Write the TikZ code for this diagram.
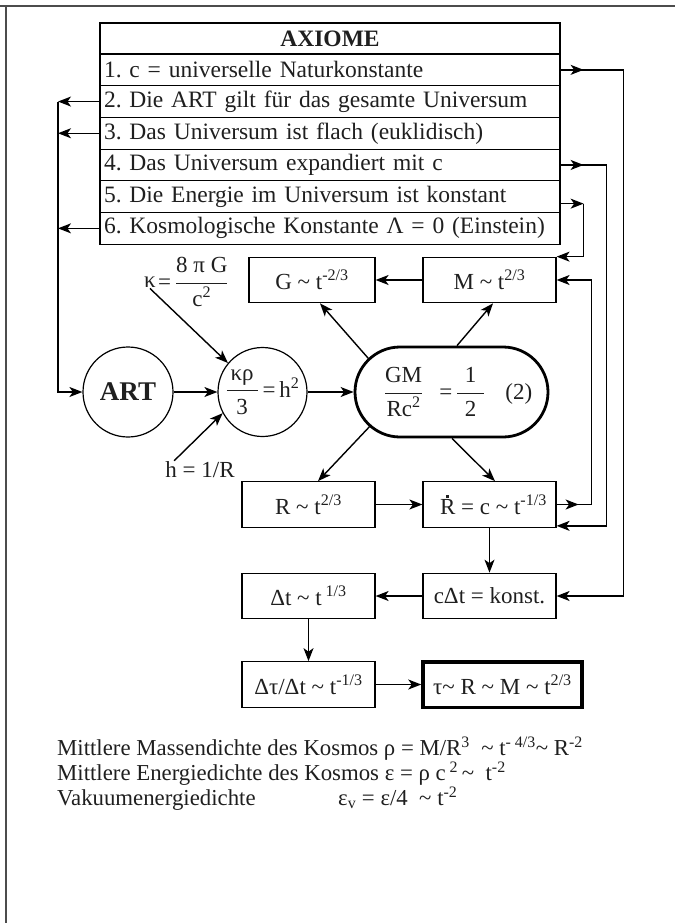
\documentclass[tikz,border=0pt]{standalone}
\usepackage{fontspec}
\setmainfont{Liberation Serif}
\usepackage{amsmath}
\usetikzlibrary{arrows.meta,calc}
\newcommand\tld{\textasciitilde}
\newcommand\sps[1]{\textsuperscript{#1}}
\newcommand\myRdot{\makebox[0pt][l]{\hspace{0.27em}\raisebox{0.72em}{\rule{2.6pt}{2.6pt}}}R}
\frenchspacing
\begin{document}
\begin{tikzpicture}[x=1pt,y=-1pt,
  >={Stealth[length=13pt,width=10pt,inset=3.5pt]},
  every node/.style={font=\fontsize{23}{27}\selectfont,text=black!88},
  arr/.style={->,line width=1.4pt},
  bx/.style={draw,line width=1.2pt,minimum height=45.5pt,inner sep=0pt},
  row/.style={draw,line width=1.2pt,minimum width=460pt,minimum height=31.7pt,inner xsep=4pt,inner ysep=0pt,text width=452pt,align=left,font=\fontsize{23.5}{27}\selectfont},
  lbl/.style={inner sep=1pt},
  btxt/.style={anchor=base west,inner sep=0pt,font=\fontsize{22.8}{26}\selectfont},
  ]
\useasboundingbox (0,0) rectangle (675,923);
\draw[line width=1.3pt,black!70] (0,6) -- (675,6);
\draw[line width=1.3pt,black!70] (6,6) -- (6,923);

% axioms
\node[row,align=center,font=\bfseries\fontsize{23.5}{27}\selectfont,minimum height=31pt] (ax) at (330,38.5) {AXIOME};
\node[row] (a1) at (330,69.85) {1. c = universelle Naturkonstante};
\node[row] (a2) at (330,101.55) {2. Die ART gilt für das gesamte Universum};
\node[row] (a3) at (330,133.25) {3. Das Universum ist flach (euklidisch)};
\node[row] (a4) at (330,164.95) {4. Das Universum expandiert mit c};
\node[row] (a5) at (330,196.65) {5. Die Energie im Universum ist konstant};
\node[row] (a6) at (330,228.35) {6. Kosmologische Konstante Λ = 0 (Einstein)};

% boxes
\node[bx,minimum width=126pt] (G) at (312,280) {G \tld\ t\sps{-2/3}};
\node[bx,minimum width=133pt] (M) at (489.5,280) {M \tld\ t\sps{2/3}};
\node[circle,draw,line width=1.2pt,minimum size=90pt,inner sep=0pt,font=\bfseries\fontsize{27}{30}\selectfont] (ART) at (128,392) {ART};
\node[circle,draw,line width=1.2pt,minimum size=89pt,inner sep=0pt] (kr) at (262.5,392) {$\dfrac{\text{\,κρ\,}}{\text{3}}$\,=\,h\sps{2}};
\node[draw,line width=2.8pt,rounded corners=45pt,minimum width=193pt,minimum height=90pt,inner sep=0pt] (GM) at (451.5,392) {};
\node[inner sep=0pt] (gmtext) at (458,392) {$\dfrac{\text{GM}}{\text{Rc\sps{2}}}$\hspace{16pt}=\,$\dfrac{\text{\,\,1\,\,}}{\text{2}}$\hspace{20pt}(2)};
\node[bx,minimum width=133pt] (R) at (308.5,504.5) {R \tld\ t\sps{2/3}};
\node[bx,minimum width=133pt] (Rd) at (489.5,504.5) {\hspace*{8pt}\myRdot\ = c \tld\ t\sps{-1/3}};
\node[bx,minimum width=133pt] (Dt) at (308.5,596) {Δt \tld\ t\,\sps{1/3}};
\node[bx,minimum width=133pt] (cDt) at (489.5,596) {cΔt = konst.};
\node[bx,minimum width=133pt] (Dtau) at (308.5,684.5) {Δτ/Δt \tld\ t\sps{-1/3}};
\node[bx,minimum width=159pt,line width=3.5pt] (tau) at (502.5,684.5) {τ\tld\ R \tld\ M \tld\ t\sps{2/3}};

% labels
\node[lbl] (kap) at (150,282) {κ};
\node[lbl,anchor=west] (kfrac) at (kap.east) {=\,$\dfrac{\text{8 π G}}{\text{c\sps{2}}}$};
\node[lbl] (hlab) at (200,470) {h = 1/R};

% bottom text
\node[btxt] (t1) at (57,755) {Mittlere Massendichte des Kosmos ρ = M/R\sps{3}\ \ \tld\ t\sps{- 4/3}\tld\ R\sps{-2}};
\node[btxt] (t2) at (57,780) {Mittlere Energiedichte des Kosmos ε = ρ c\,\sps{2}\,\tld\ \ t\sps{-2}};
\node[btxt] (t3) at (57,805) {Vakuumenergiedichte};
\node[btxt] (t3b) at (338,805) {ε\textsubscript{v} = ε/4\ \ \tld\ t\sps{-2}};

% left bus
\coordinate (lb) at (58,0);
\draw[arr] (a2.west) -- (a2.west -| lb);
\draw[arr] (a3.west) -- (a3.west -| lb);
\draw[arr] (a6.west) -- (a6.west -| lb);
\draw[arr] (a2.west -| lb) |- (ART.west);

% right buses
\draw[arr] (a1.east) -- ++(23,0);
\draw[arr] (a1.east) -- ++(63,0) |- (cDt.east);
\draw[arr] (a4.east) -- ++(23,0);
\draw[arr] (a4.east) -- ++(46,0) |- ([yshift=2pt]Rd.south east);
\draw[arr] ($(a5.east)+(0,7)$) -- ++(23,0);
\draw[arr] ($(a5.east)+(23,7)$) |- (M.north east);
\draw[arr] (Rd.east) -- ++(22,0);
\draw[arr] (Rd.east) -- ++(35,0) |- (M.east);

% main flow
\draw[arr] (kap.south) -- (kr.140);
\draw[arr] ($(hlab.north west)+(10,0)$) -- (kr.208);
\draw[arr] (ART.east) -- (kr.west);
\draw[arr] (kr.east) -- (GM.west);
\coordinate (gmL) at ($(GM.west)+(45,0)$);
\draw[arr] ($(gmL)+(228:45)$) -- ([xshift=8pt]G.south);
\draw[arr] ($(GM.north)+(5.5,0)$) -- ([xshift=3.5pt]M.south);
\draw[arr] ($(gmL)+(130:45)$) -- ([xshift=9.5pt]R.north);
\draw[arr] ($(GM.south)+(0.5,0)$) -- ([xshift=5.5pt]Rd.north);
\draw[arr] (M.west) -- (G.east);
\draw[arr] (R.east) -- (Rd.west);
\draw[arr] (Rd.south) -- (cDt.north);
\draw[arr] (cDt.west) -- (Dt.east);
\draw[arr] (Dt.south) -- (Dtau.north);
\draw[arr] (Dtau.east) -- (tau.west);
\end{tikzpicture}
\end{document}
